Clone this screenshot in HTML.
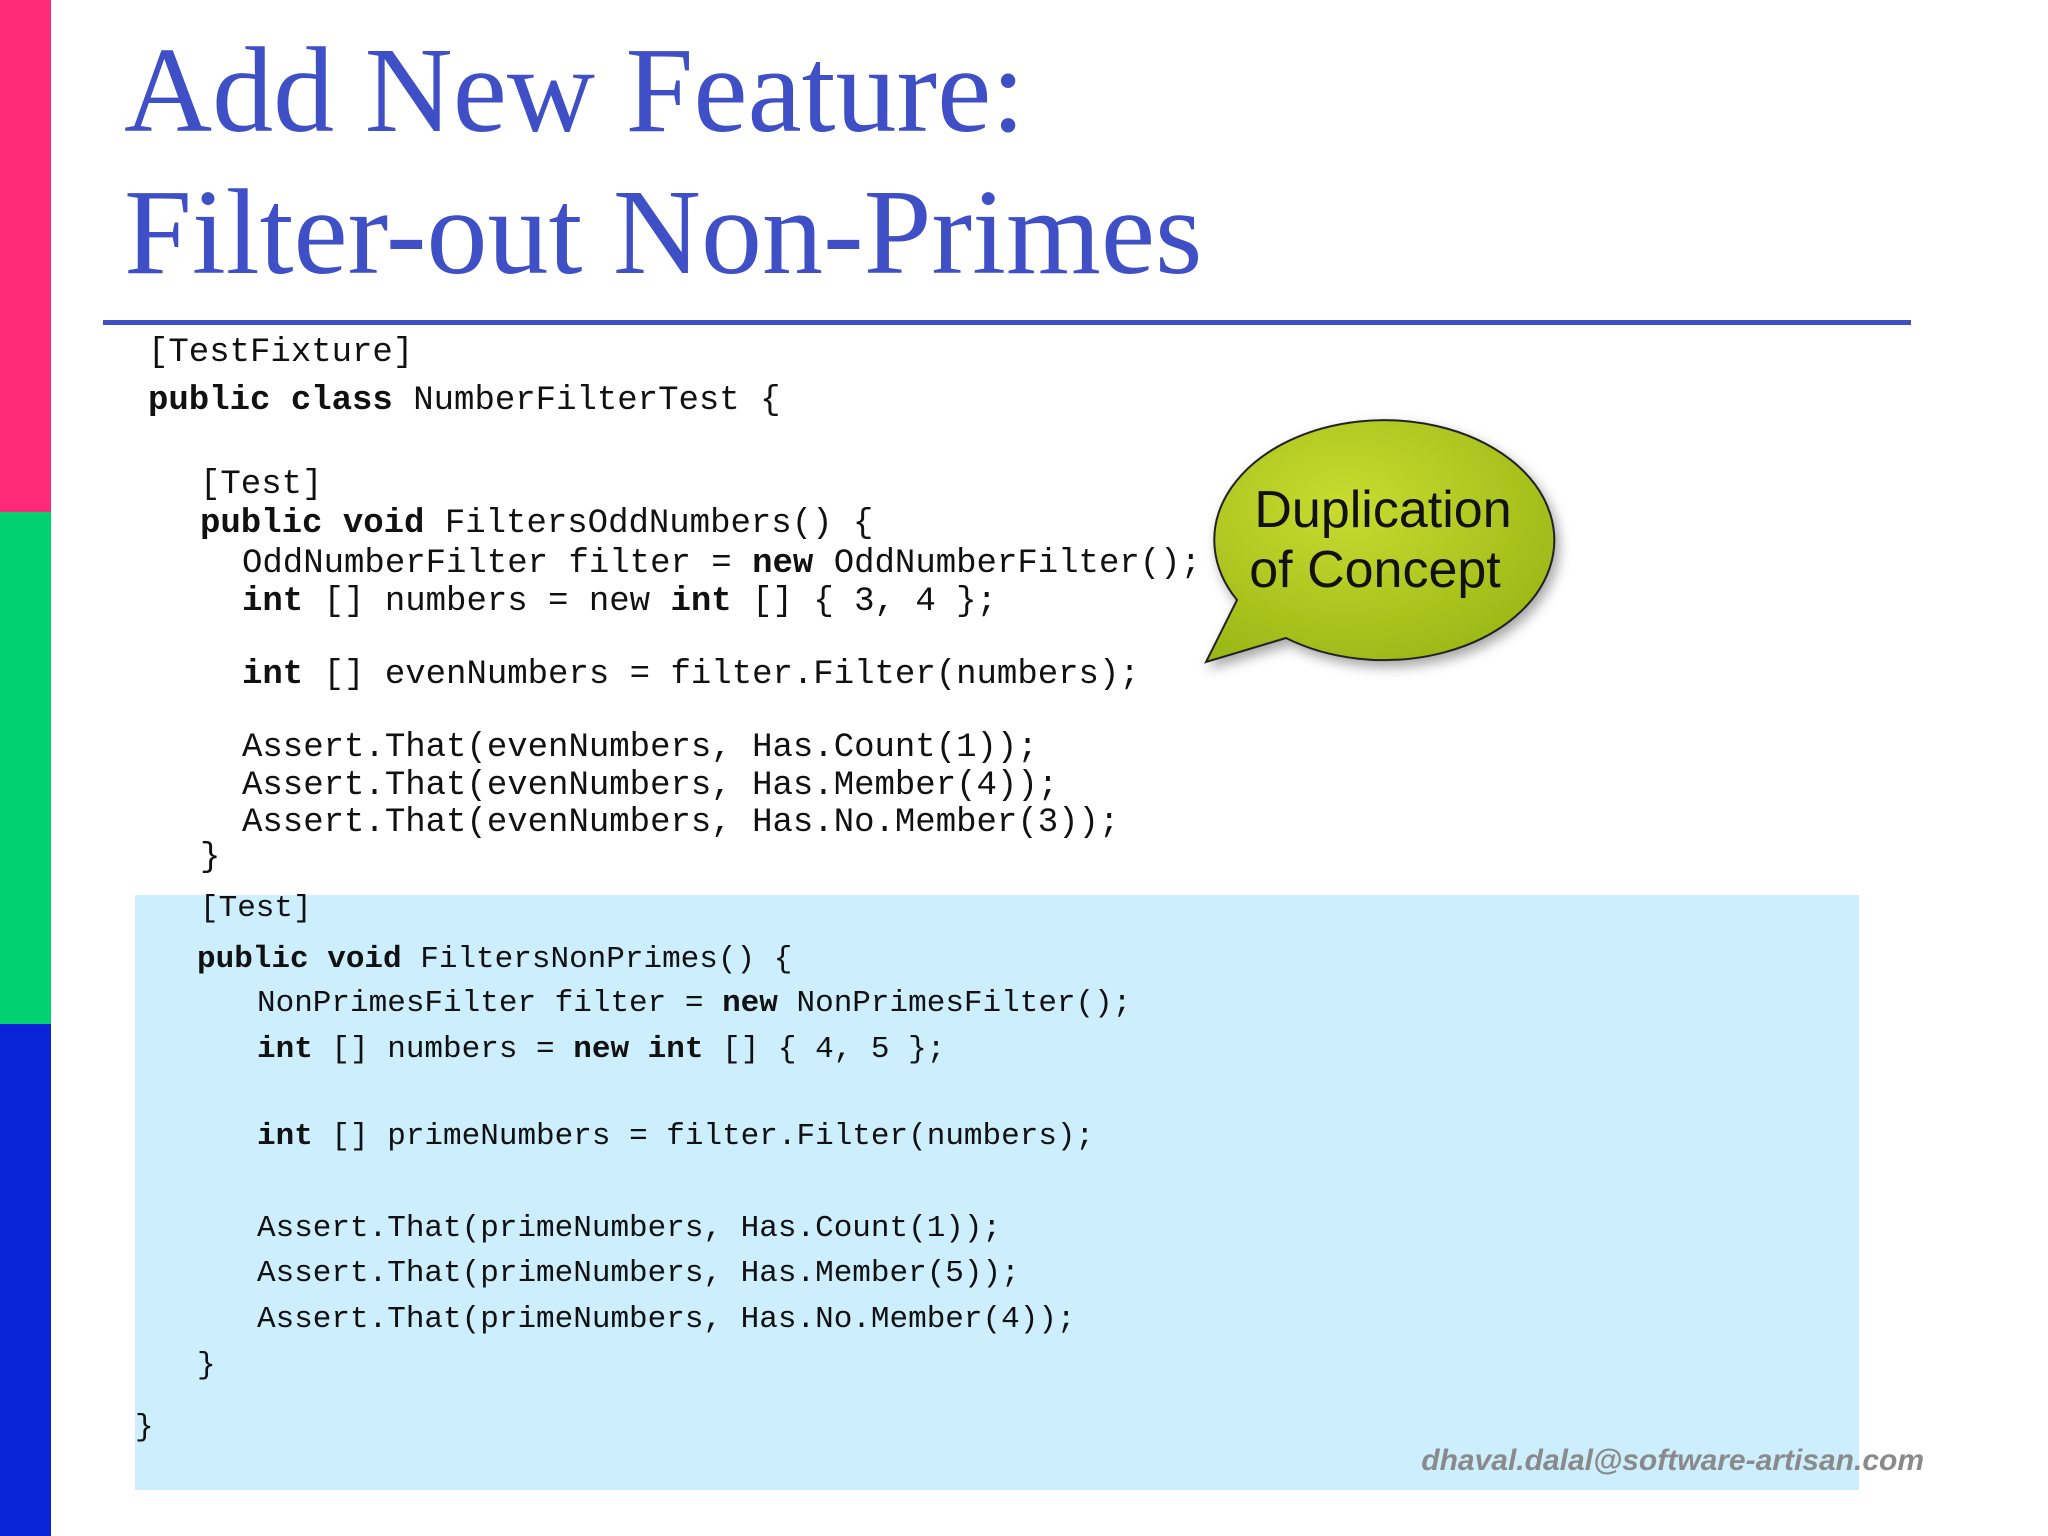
<!DOCTYPE html>
<html><head><meta charset="utf-8"><style>
html,body{margin:0;padding:0;}
body{width:2048px;height:1536px;position:relative;overflow:hidden;background:#fff;font-family:"Liberation Sans",sans-serif;}
.bar{position:absolute;left:0;width:51px;}
.t{position:absolute;left:124px;font-family:"Liberation Serif",serif;font-size:122px;color:#3f4fc6;line-height:1;white-space:nowrap;}
.c{position:absolute;font-family:"Liberation Mono",monospace;white-space:pre;color:#111;line-height:1;}
.a{font-size:34px;}
.b{font-size:31px;}
b{font-weight:bold;}
</style></head><body>
<div class="bar" style="top:0;height:512px;background:#ff2a7a"></div>
<div class="bar" style="top:512px;height:512px;background:#00d070"></div>
<div class="bar" style="top:1024px;height:512px;background:#0a22d8"></div>
<div class="t" style="top:30px">Add New Feature:</div>
<div class="t" style="top:172px">Filter-out Non-Primes</div>
<div style="position:absolute;left:103px;top:320px;width:1808px;height:5px;background:#3f4fc6"></div>
<div style="position:absolute;left:135px;top:895px;width:1724px;height:595px;background:#cdeefd"></div>

<div class="c a" style="left:148px;top:336px">[TestFixture]</div>
<div class="c a" style="left:148px;top:384px"><b>public class</b> NumberFilterTest {</div>
<div class="c a" style="left:200px;top:468px">[Test]</div>
<div class="c a" style="left:200px;top:507px"><b>public void</b> FiltersOddNumbers() {</div>
<div class="c a" style="left:242px;top:547px">OddNumberFilter filter = <b>new</b> OddNumberFilter();</div>
<div class="c a" style="left:242px;top:585px"><b>int</b> [] numbers = new <b>int</b> [] { 3, 4 };</div>
<div class="c a" style="left:242px;top:658px"><b>int</b> [] evenNumbers = filter.Filter(numbers);</div>
<div class="c a" style="left:242px;top:731px">Assert.That(evenNumbers, Has.Count(1));</div>
<div class="c a" style="left:242px;top:769px">Assert.That(evenNumbers, Has.Member(4));</div>
<div class="c a" style="left:242px;top:806px">Assert.That(evenNumbers, Has.No.Member(3));</div>
<div class="c a" style="left:200px;top:841px">}</div>

<div class="c b" style="left:200px;top:893px">[Test]</div>
<div class="c b" style="left:197px;top:944px"><b>public void</b> FiltersNonPrimes() {</div>
<div class="c b" style="left:257px;top:988px">NonPrimesFilter filter = <b>new</b> NonPrimesFilter();</div>
<div class="c b" style="left:257px;top:1034px"><b>int</b> [] numbers = <b>new int</b> [] { 4, 5 };</div>
<div class="c b" style="left:257px;top:1121px"><b>int</b> [] primeNumbers = filter.Filter(numbers);</div>
<div class="c b" style="left:257px;top:1213px">Assert.That(primeNumbers, Has.Count(1));</div>
<div class="c b" style="left:257px;top:1258px">Assert.That(primeNumbers, Has.Member(5));</div>
<div class="c b" style="left:257px;top:1304px">Assert.That(primeNumbers, Has.No.Member(4));</div>
<div class="c b" style="left:197px;top:1350px">}</div>
<div class="c b" style="left:135px;top:1412px">}</div>

<svg style="position:absolute;left:0;top:0" width="2048" height="1536">
<defs><radialGradient id="g" cx="0.4" cy="0.35" r="0.7"><stop offset="0" stop-color="#c8dc30"/><stop offset="1" stop-color="#9cb817"/></radialGradient>
<filter id="s"><feDropShadow dx="4" dy="6" stdDeviation="6" flood-opacity="0.35"/></filter></defs>
<path filter="url(#s)" d="M1286,638 L1206,662 L1237,600 A170,120 0 1 1 1286,638 Z" fill="url(#g)" stroke="#222" stroke-width="2"/>
<text x="1383" y="527" font-family="Liberation Sans" font-size="52" text-anchor="middle" fill="#111">Duplication</text>
<text x="1375" y="587" font-family="Liberation Sans" font-size="52" text-anchor="middle" fill="#111">of Concept</text>
</svg>
<div style="position:absolute;right:124px;top:1444px;font-size:30px;font-weight:bold;font-style:italic;color:#8a8a8a">dhaval.dalal@software-artisan.com</div>
</body></html>
